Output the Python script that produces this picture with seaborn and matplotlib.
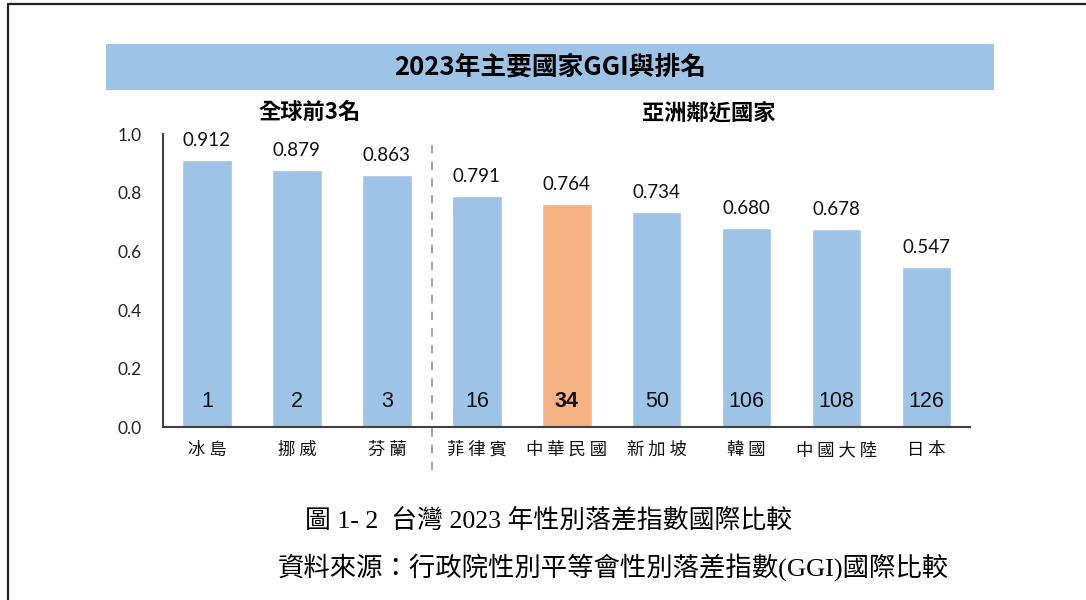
import matplotlib
matplotlib.use("Agg")
import matplotlib.pyplot as plt
import seaborn as sns
import pandas as pd
from matplotlib.lines import Line2D
from matplotlib.patches import Rectangle

countries = ["冰島", "挪威", "芬蘭", "菲律賓", "中華民國", "新加坡", "韓國", "中國大陸", "日本"]
ggi = [0.912, 0.879, 0.863, 0.791, 0.764, 0.734, 0.680, 0.678, 0.547]
ranks = [1, 2, 3, 16, 34, 50, 106, 108, 126]
highlight = "中華民國"
yticks = [0.0, 0.2, 0.4, 0.6, 0.8, 1.0]
title = "2023年主要國家GGI與排名"
group_titles = ["全球前3名", "亞洲鄰近國家"]
caption = "圖 1- 2  台灣 2023 年性別落差指數國際比較"
source = "資料來源：行政院性別平等會性別落差指數(GGI)國際比較"

BLUE = "#9DC3E6"
ORANGE = "#F4B183"

sns.set_theme(style="white")
plt.rcParams["font.family"] = ["Noto Sans CJK TC", "DejaVu Sans"]

df = pd.DataFrame({"country": countries, "ggi": ggi, "rank": ranks})
palette = {c: (ORANGE if c == highlight else BLUE) for c in countries}

fig = plt.figure(figsize=(10.86, 6.0), dpi=100)
ax = fig.add_axes([0.150, 0.288, 0.743, 0.488])

sns.barplot(data=df, x="country", y="ggi", hue="country", palette=palette,
            order=countries, hue_order=countries, dodge=False, legend=False,
            width=0.55, saturation=1, ax=ax)

ax.set_xlim(-0.49, 8.48)
ax.set_ylim(0, 1.0)
ax.set_yticks(yticks)
ax.set_yticklabels([f"{v:.1f}" for v in yticks], family=["Lato", "DejaVu Sans"], fontsize=12.5)
ax.set_xlabel("")
ax.set_ylabel("")
ax.set_xticks(range(len(countries)))
ax.set_xticklabels([" ".join(list(c)) for c in countries], fontsize=12.5, color="#111111")
ax.tick_params(axis="x", length=0, pad=10)
ax.tick_params(axis="y", length=5, direction="inout", width=1.2, color="#404040", pad=13, labelcolor="#222222")

for s in ["top", "right"]:
    ax.spines[s].set_visible(False)
for s in ["left", "bottom"]:
    ax.spines[s].set_color("#404040")
    ax.spines[s].set_linewidth(1.5)

# value labels and rank labels
for i, (v, r, c) in enumerate(zip(ggi, ranks, countries)):
    ax.annotate(f"{v:.3f}", (i, v), xytext=(0, 10), textcoords="offset points",
                ha="center", va="baseline", fontsize=13.5, family=["Lato", "DejaVu Sans"], color="#111111")
    ax.text(i, 0.089, str(r), ha="center", va="center", fontsize=15.5,
            family=["Liberation Sans", "DejaVu Sans"],
            fontweight=("bold" if c == highlight else "normal"), color="#111111")

# dashed separator
ax.plot([2.5, 2.5], [-0.147, 0.99], transform=ax.get_xaxis_transform(),
        ls=(0, (4, 4)), lw=1.5, color="#A6A6A6", clip_on=False)

# title band
fig.patches.append(Rectangle((0.0976, 0.85), 0.8177, 0.0767, transform=fig.transFigure,
                             facecolor=BLUE, edgecolor="none", zorder=0))
fig.text(0.5064, 0.888, title, ha="center", va="center", fontsize=18.5, fontweight="bold", color="#000000")

fig.text(0.285, 0.812, group_titles[0], ha="center", va="center", fontsize=16, fontweight="bold", color="#000000")
fig.text(0.653, 0.812, group_titles[1], ha="center", va="center", fontsize=16, fontweight="bold", color="#000000")

fig.text(0.281, 0.133, caption, ha="left", va="center", fontsize=18.6,
         family=["Liberation Serif", "Noto Sans CJK TC"], color="#000000")
fig.text(0.256, 0.055, source, ha="left", va="center", fontsize=19,
         family=["Liberation Serif", "Noto Sans CJK TC"], color="#000000")

# page frame
fig.add_artist(Line2D([0.0074, 0.0074], [0.0, 0.9935], transform=fig.transFigure, color="#222222", lw=1.6))
fig.add_artist(Line2D([0.0074, 1.0], [0.9935, 0.9935], transform=fig.transFigure, color="#222222", lw=1.6))

fig.savefig("out.png", dpi=100)
